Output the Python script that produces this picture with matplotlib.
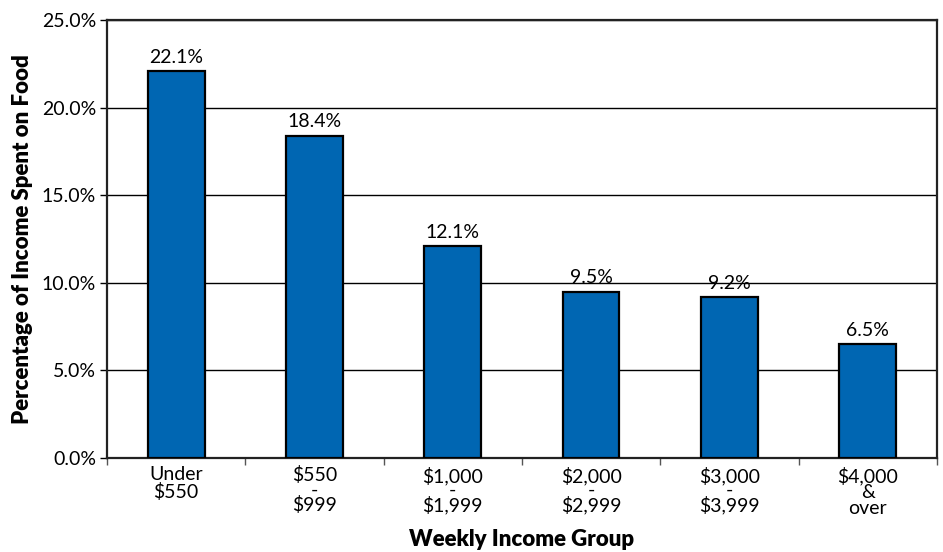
import matplotlib.pyplot as plt
import numpy as np

plt.rcParams['font.family'] = ['Lato', 'DejaVu Sans']

# data
groups = ['Under\n$550', '$550\n-\n$999', '$1,000\n-\n$1,999',
          '$2,000\n-\n$2,999', '$3,000\n-\n$3,999', '$4,000\n&\nover']
pct = [22.1, 18.4, 12.1, 9.5, 9.2, 6.5]
yticks = [0, 5, 10, 15, 20, 25]

fig = plt.figure(figsize=(9.43, 5.52), dpi=100)
ax = fig.add_axes([0.1135, 0.1703, 0.880, 0.7935])

x = np.arange(len(groups))
ax.bar(x, pct, width=0.41, color='#0066b2', edgecolor='black', linewidth=1.6, zorder=3)

for xi, v in zip(x, pct):
    ax.text(xi, v + 0.3, '%.1f%%' % v, ha='center', va='bottom', fontsize=14)

ax.set_xlim(-0.5, len(groups) - 0.5)
ax.set_ylim(0, 25)
ax.set_yticks(yticks)
ax.set_yticklabels(['%.1f%%' % t for t in yticks], fontsize=14)
ax.yaxis.grid(True, color='black', linewidth=1.0, zorder=0)

ax.set_xticks(x)
ax.set_xticklabels(groups, fontsize=14)
for lab in ax.get_xticklabels():
    t = lab.get_text()
    if t.count('\n') == 1:
        lab.set_linespacing(1.0)
    elif '&' in t:
        lab.set_linespacing(0.92)
    else:
        lab.set_linespacing(0.8)
ax.set_xticks(np.arange(-0.5, len(groups), 1), minor=True)
ax.tick_params(axis='x', which='major', length=0, pad=6)
ax.tick_params(axis='x', which='minor', length=5, width=1, color='#555555')
ax.tick_params(axis='y', length=5, width=1, pad=3)

for s in ax.spines.values():
    s.set_linewidth(1.6)
    s.set_color('#222222')

ax.set_xlabel('Weekly Income Group', fontsize=16, fontweight='heavy')
ax.xaxis.set_label_coords(0.5, -0.163)
ax.set_ylabel('Percentage of Income Spent on Food', fontsize=16, fontweight='heavy', labelpad=6)

fig.savefig('out.png', dpi=100)
